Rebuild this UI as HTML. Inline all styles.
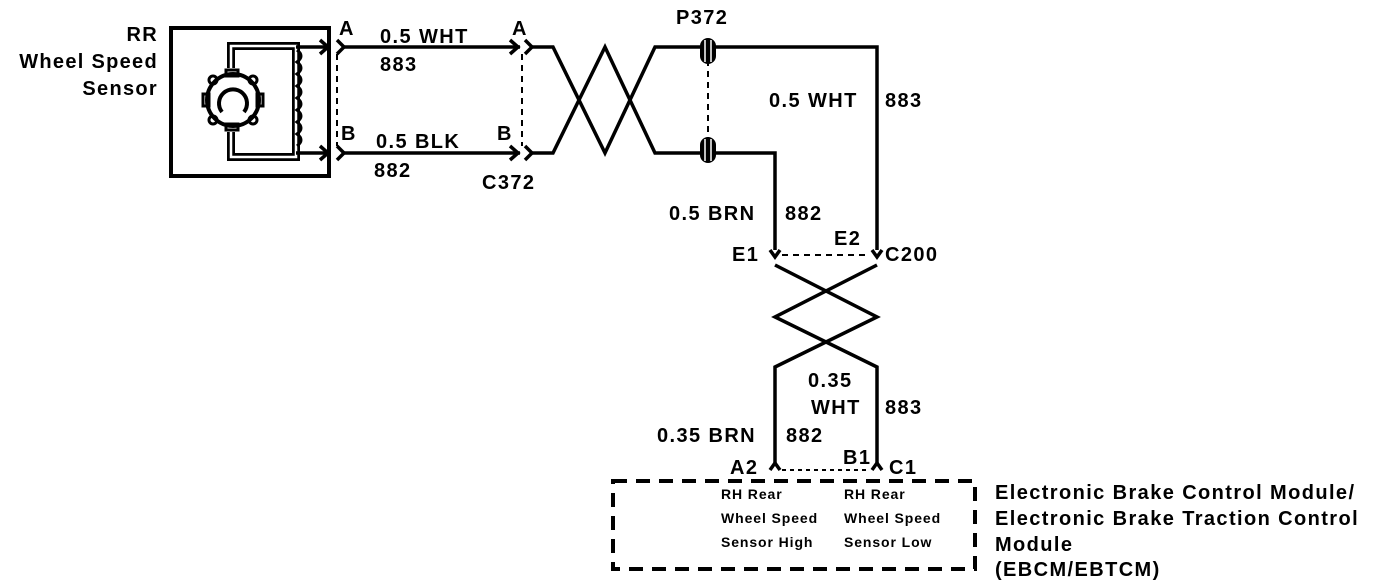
<!DOCTYPE html>
<html><head><style>
html,body{margin:0;padding:0;background:#fff;}
svg{display:block;}
text{font-family:"Liberation Sans",Arial,sans-serif;font-weight:bold;fill:#000;}
</style></head><body>
<svg width="1376" height="586" viewBox="0 0 1376 586" xmlns="http://www.w3.org/2000/svg">
<g font-size="20" letter-spacing="1.3">
<text x="158" y="41" text-anchor="end">RR</text>
<text x="158" y="68" text-anchor="end">Wheel Speed</text>
<text x="158" y="95" text-anchor="end">Sensor</text>
</g>
<rect x="171" y="28" width="158" height="148" fill="none" stroke="#000" stroke-width="4"/>
<path d="M231,68 V46 H296 V157 H231 V132" fill="none" stroke="#000" stroke-width="8"/>
<path d="M231,68 V46 H296 V157 H231 V132" fill="none" stroke="#fff" stroke-width="2.5"/>
<path d="M297,50 q8,6 0,12 q8,6 0,12 q8,6 0,12 q8,6 0,12 q8,6 0,12 q8,6 0,12 q8,6 0,12 q8,6 0,12" fill="none" stroke="#000" stroke-width="3"/>
<circle cx="233" cy="100" r="26" fill="none" stroke="#000" stroke-width="4"/>
<path d="M222,112 A14,14 0 1 1 244,112" fill="none" stroke="#000" stroke-width="4"/>
<g fill="none" stroke="#000" stroke-width="3">
<rect x="226" y="70" width="12" height="6"/><rect x="226" y="124" width="12" height="6"/>
<rect x="203" y="94" width="6" height="12"/><rect x="257" y="94" width="6" height="12"/>
<circle cx="213" cy="80" r="4"/><circle cx="253" cy="80" r="4"/><circle cx="213" cy="120" r="4"/><circle cx="253" cy="120" r="4"/>
</g>
<g fill="none" stroke="#000" stroke-width="3.5">
<path d="M296,47 H330"/><path d="M296,153 H330"/>
<path d="M320,40 L328,47 L320,54"/><path d="M320,146 L328,153 L320,160"/>
<path d="M337,40 L344,47 L337,54 M337,146 L344,153 L337,160"/>
<path d="M344,47 H520 M344,153 H520"/>
<path d="M510,40 L518,47 L510,54 M510,146 L518,153 L510,160"/>
<path d="M525,40 L532,47 L525,54 M525,146 L532,153 L525,160"/>
<path d="M532,47 H553 L605,153 L655,47 H877 V250"/>
<path d="M532,153 H553 L605,47 L655,153 H775 V250"/>
<path d="M770,250 L775,257 L780,250 M872,250 L877,257 L882,250"/>
<path d="M775,265 L877,317 L775,367 V465 M877,265 L775,317 L877,367 V465"/>
<path d="M770,470 L775,463 L780,470 M872,470 L877,463 L882,470"/>
</g>
<g fill="none" stroke="#000" stroke-width="2" stroke-dasharray="6,5">
<path d="M337,54 V146 M522,54 V146 M708,60 V140"/>
<path d="M782,255 H870"/>
<path d="M782,470 H870" stroke-dasharray="4,4"/>
</g>
<rect x="700" y="38" width="16" height="26" rx="8" fill="#000"/>
<rect x="700" y="137" width="16" height="26" rx="8" fill="#000"/>
<path d="M705,40 V62 M711,40 V62 M705,139 V161 M711,139 V161" stroke="#fff" stroke-width="1.5"/>
<rect x="613" y="481" width="362" height="88" fill="none" stroke="#000" stroke-width="4" stroke-dasharray="14,9"/>
<g font-size="20" letter-spacing="1.4">
<text x="339" y="35">A</text><text x="512" y="35">A</text>
<text x="380" y="43">0.5 WHT</text><text x="380" y="71">883</text>
<text x="341" y="140">B</text><text x="497" y="140">B</text>
<text x="376" y="148">0.5 BLK</text><text x="374" y="177">882</text>
<text x="482" y="189">C372</text>
<text x="676" y="24">P372</text>
<text x="769" y="107">0.5 WHT</text><text x="885" y="107">883</text>
<text x="669" y="220">0.5 BRN</text><text x="785" y="220">882</text>
<text x="732" y="261">E1</text><text x="834" y="245">E2</text><text x="885" y="261">C200</text>
<text x="808" y="387">0.35</text><text x="811" y="414">WHT</text><text x="885" y="414">883</text>
<text x="657" y="442">0.35 BRN</text><text x="786" y="442">882</text>
<text x="730" y="474">A2</text><text x="843" y="464">B1</text><text x="889" y="474">C1</text>
<text x="995" y="499">Electronic Brake Control Module/</text>
<text x="995" y="525">Electronic Brake Traction Control</text>
<text x="995" y="551">Module</text>
<text x="995" y="576">(EBCM/EBTCM)</text>
</g>
<g font-size="14" letter-spacing="0.9">
<text x="721" y="499">RH Rear</text><text x="721" y="523">Wheel Speed</text><text x="721" y="547">Sensor High</text>
<text x="844" y="499">RH Rear</text><text x="844" y="523">Wheel Speed</text><text x="844" y="547">Sensor Low</text>
</g>
</svg>
</body></html>
